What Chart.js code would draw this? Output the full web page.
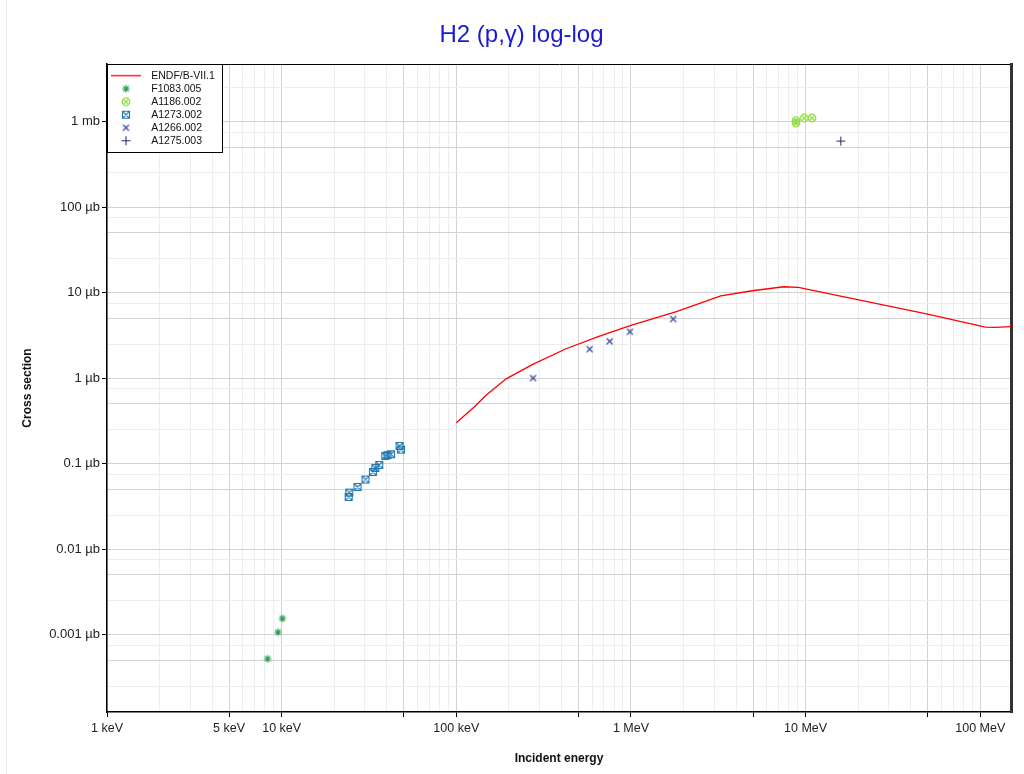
<!DOCTYPE html>
<html>
<head>
<meta charset="utf-8">
<title>H2 (p,γ) log-log</title>
<script src="https://cdn.jsdelivr.net/npm/chart.js@4.4.1/dist/chart.umd.min.js"></script>
<style>
  body { margin: 0; background: #fff; }
  #wrap { position: relative; width: 1024px; height: 774px; }
  #edge { position: absolute; left: 6px; top: 0; width: 1px; height: 774px; background: #ececec; }
</style>
</head>
<body>
<div id="wrap">
  <canvas id="chart" width="1024" height="774"></canvas>
  <div id="edge"></div>
</div>
<script>
// energies in keV, cross sections in µb

// ENDF/B-VII.1 evaluation
const endfEnergy = [100, 128, 148, 193, 272, 422, 655, 1000, 1820, 3270, 4950, 7500, 9100, 15600, 50000, 107000, 121000, 150000];
const endfXs = [0.30, 0.47, 0.63, 0.98, 1.44, 2.19, 3.08, 4.13, 6.0, 9.15, 10.5, 11.7, 11.5, 9.15, 5.6, 3.95, 3.92, 4.0];

// EXFOR sets
const f1083Energy = [8.31, 9.53, 10.1];
const f1083Xs = [0.000524, 0.00107, 0.00155];

const a1186Energy = [8810, 8810, 9820, 10870];
const a1186Xs = [1027, 958, 1097, 1097];

const a1273Energy = [24.2, 24.4, 27.2, 30.2, 33.3, 34.4, 36.2, 39.2, 40.4, 42.3, 47.3, 48.2];
const a1273Xs = [0.0408, 0.0459, 0.0534, 0.0652, 0.080, 0.089, 0.0966, 0.123, 0.126, 0.129, 0.161, 0.146];

const a1266Energy = [275, 580, 755, 987, 1746];
const a1266Xs = [1.0, 2.18, 2.69, 3.48, 4.91];

const a1275Energy = [15900];
const a1275Xs = [590];

// axes
const xMin = 1, xMax = 150000;
const yMin = 0.000125, yMax = 4700;
const xTickValues = [1, 5, 10, 100, 1000, 10000, 100000];
const xTickLabels = ['1 keV', '5 keV', '10 keV', '100 keV', '1 MeV', '10 MeV', '100 MeV'];
const yTickValues = [0.001, 0.01, 0.1, 1, 10, 100, 1000];
const yTickLabels = ['0.001 µb', '0.01 µb', '0.1 µb', '1 µb', '10 µb', '100 µb', '1 mb'];
const xSteps = [1, 2, 3, 4, 5, 6, 7, 8, 9];
const ySteps = [1, 2.5, 5, 7.5];

const FONT = 'Liberation Sans, Arial, Helvetica, sans-serif';
const GRID_DARK = '#d3d3d3';
const GRID_LIGHT = '#ededed';

function pts(xs, ys) {
  return xs.map((x, i) => ({ x: x, y: ys[i] }));
}

function logTicks(min, max, steps) {
  const out = [];
  for (let e = Math.floor(Math.log10(min)); e <= Math.ceil(Math.log10(max)); e++) {
    for (const s of steps) {
      const v = s * Math.pow(10, e);
      if (v >= min * 0.9999 && v <= max * 1.0001) out.push({ value: v });
    }
  }
  return out;
}

function mantissa(v) {
  const m = v / Math.pow(10, Math.floor(Math.log10(v) + 1e-9));
  return Math.round(m * 100) / 100;
}

function lookup(values, labels, v) {
  const i = values.findIndex(t => Math.abs(v / t - 1) < 1e-6);
  return i < 0 ? '' : labels[i];
}

// little canvases used as point styles (chart and legend)
function mark(w, h, color, lw, draw) {
  const c = document.createElement('canvas');
  c.width = w; c.height = h;
  const g = c.getContext('2d');
  g.strokeStyle = color;
  g.lineWidth = lw;
  g.beginPath();
  draw(g);
  g.stroke();
  return c;
}

const lineMark = mark(30, 3, '#ff0000', 1.3, g => {
  g.moveTo(0, 1.5); g.lineTo(30, 1.5);
});

const starMark = mark(10, 10, '#2e9e4a', 1.2, g => {
  const r = 3.8;
  for (let k = 0; k < 4; k++) {
    const a = k * Math.PI / 4;
    g.moveTo(5 - r * Math.cos(a), 5 - r * Math.sin(a));
    g.lineTo(5 + r * Math.cos(a), 5 + r * Math.sin(a));
  }
});

const circleX = mark(10, 10, '#8cdc3a', 1.2, g => {
  g.arc(5, 5, 3.8, 0, Math.PI * 2);
  g.moveTo(2.6, 2.6); g.lineTo(7.4, 7.4);
  g.moveTo(7.4, 2.6); g.lineTo(2.6, 7.4);
});

const squareX = mark(10, 10, '#2478b0', 1.1, g => {
  g.rect(1.5, 1.5, 7, 7);
  g.moveTo(1.5, 1.5); g.lineTo(8.5, 8.5);
  g.moveTo(8.5, 1.5); g.lineTo(1.5, 8.5);
});

const crossRotMark = mark(9, 9, '#34469a', 1.2, g => {
  g.moveTo(1.5, 1.5); g.lineTo(7.5, 7.5);
  g.moveTo(7.5, 1.5); g.lineTo(1.5, 7.5);
});

const crossMark = mark(11, 11, '#29297a', 1.1, g => {
  g.moveTo(5.5, 1); g.lineTo(5.5, 10);
  g.moveTo(1, 5.5); g.lineTo(10, 5.5);
});

// white legend frame drawn over the grid, then the legend again on top
const legendFrame = {
  id: 'legendFrame',
  afterLayout(chart) {
    const lg = chart.legend;
    lg.left = chart.chartArea.left - 3.5;
    lg.top = chart.chartArea.top + 4;
    lg.right = lg.left + lg.width;
    lg.bottom = lg.top + lg.height;
  },
  afterDatasetsDraw(chart) {
    const lg = chart.legend;
    const boxes = lg.legendHitBoxes;
    if (!boxes || !boxes.length) return;
    const ctx = chart.ctx;
    const x0 = chart.chartArea.left;
    const y0 = chart.chartArea.top;
    const x1 = Math.max(...boxes.map(b => b.left + b.width)) + 7;
    const last = boxes[boxes.length - 1];
    const y1 = last.top + last.height + 6;
    ctx.save();
    ctx.fillStyle = '#fff';
    ctx.fillRect(x0, y0, x1 - x0, y1 - y0);
    ctx.strokeStyle = '#000';
    ctx.lineWidth = 1;
    ctx.strokeRect(Math.round(x0) + 0.5, Math.round(y0) + 0.5, Math.round(x1 - x0), Math.round(y1 - y0));
    ctx.restore();
    lg.draw();
  }
};

new Chart(document.getElementById('chart'), {
  type: 'scatter',
  data: {
    datasets: [
      {
        label: 'ENDF/B-VII.1',
        data: pts(endfEnergy, endfXs),
        showLine: true,
        borderColor: '#ff0000',
        backgroundColor: '#ff0000',
        borderWidth: 1.3,
        pointRadius: 0,
        pointStyle: lineMark,
      },
      {
        label: 'F1083.005',
        data: pts(f1083Energy, f1083Xs),
        pointStyle: starMark,
        pointRadius: 4,
        borderColor: '#2e9e4a',
        backgroundColor: '#2e9e4a',
      },
      {
        label: 'A1186.002',
        data: pts(a1186Energy, a1186Xs),
        pointStyle: circleX,
        pointRadius: 4,
        borderColor: '#8cdc3a',
        backgroundColor: '#8cdc3a',
      },
      {
        label: 'A1273.002',
        data: pts(a1273Energy, a1273Xs),
        pointStyle: squareX,
        pointRadius: 4,
        borderColor: '#2478b0',
        backgroundColor: '#2478b0',
      },
      {
        label: 'A1266.002',
        data: pts(a1266Energy, a1266Xs),
        pointStyle: crossRotMark,
        pointRadius: 4,
        borderColor: '#34469a',
        backgroundColor: '#34469a',
      },
      {
        label: 'A1275.003',
        data: pts(a1275Energy, a1275Xs),
        pointStyle: crossMark,
        pointRadius: 4,
        borderColor: '#29297a',
        backgroundColor: '#29297a',
      },
    ],
  },
  options: {
    responsive: false,
    devicePixelRatio: 1,
    animation: false,
    layout: { padding: { left: 32, right: 13, top: 0, bottom: 0 } },
    plugins: {
      title: {
        display: true,
        text: 'H2 (p,γ) log-log',
        color: '#1a1ad2',
        font: { family: FONT, size: 24, weight: 'normal' },
        padding: { top: 20.6, bottom: 14.6 },
      },
      legend: {
        position: 'chartArea',
        align: 'start',
        labels: {
          usePointStyle: true,
          pointStyleWidth: 40,
          boxHeight: 7,
          padding: 2.5,
          color: '#111',
          font: { family: FONT, size: 10.5 },
        },
      },
      tooltip: { enabled: false },
    },
    scales: {
      x: {
        type: 'logarithmic',
        position: 'bottom',
        min: xMin,
        max: xMax,
        bounds: 'data',
        z: -1,
        afterBuildTicks: s => { s.ticks = logTicks(xMin, xMax, xSteps); },
        afterFit: s => { s.height = 62; },
        ticks: {
          autoSkip: false,
          maxRotation: 0,
          padding: 4,
          color: '#222',
          font: { family: FONT, size: 12.5 },
          callback: v => lookup(xTickValues, xTickLabels, v),
        },
        grid: {
          color: c => (c.tick && [1, 5].includes(mantissa(c.tick.value))) ? GRID_DARK : GRID_LIGHT,
          tickColor: c => (c.tick && [1, 5].includes(mantissa(c.tick.value))) ? '#000' : 'rgba(0,0,0,0)',
          tickLength: 5,
        },
        border: { color: '#000', width: 1.5 },
        title: {
          display: true,
          text: 'Incident energy',
          color: '#111',
          font: { family: FONT, size: 12, weight: 'bold' },
          padding: { top: 0, bottom: 8 },
        },
      },
      y: {
        type: 'logarithmic',
        position: 'left',
        min: yMin,
        max: yMax,
        bounds: 'data',
        z: -1,
        afterBuildTicks: s => { s.ticks = logTicks(yMin, yMax, ySteps); },
        afterFit: s => { s.width = 75; },
        ticks: {
          autoSkip: false,
          padding: 2,
          color: '#222',
          font: { family: FONT, size: 13 },
          callback: v => lookup(yTickValues, yTickLabels, v),
        },
        grid: {
          color: c => (c.tick && [1, 5].includes(mantissa(c.tick.value))) ? GRID_DARK : GRID_LIGHT,
          tickColor: c => (c.tick && mantissa(c.tick.value) === 1) ? '#000' : 'rgba(0,0,0,0)',
          tickLength: 5,
        },
        border: { color: '#000', width: 1.5 },
        title: {
          display: true,
          text: 'Cross section',
          color: '#111',
          font: { family: FONT, size: 12, weight: 'bold' },
          padding: { top: -12, bottom: 0 },
        },
      },
      x2: {
        type: 'logarithmic',
        position: 'top',
        min: xMin,
        max: xMax,
        bounds: 'data',
        afterFit: s => { s.height = 0; },
        ticks: { display: false },
        grid: { display: false, drawTicks: false },
        border: { color: '#000', width: 1 },
      },
      y2: {
        type: 'logarithmic',
        position: 'right',
        min: yMin,
        max: yMax,
        bounds: 'data',
        afterFit: s => { s.width = 0; },
        ticks: { display: false },
        grid: { display: false, drawTicks: false },
        border: { color: '#333', width: 3 },
      },
    },
  },
  plugins: [legendFrame],
});
</script>
</body>
</html>
